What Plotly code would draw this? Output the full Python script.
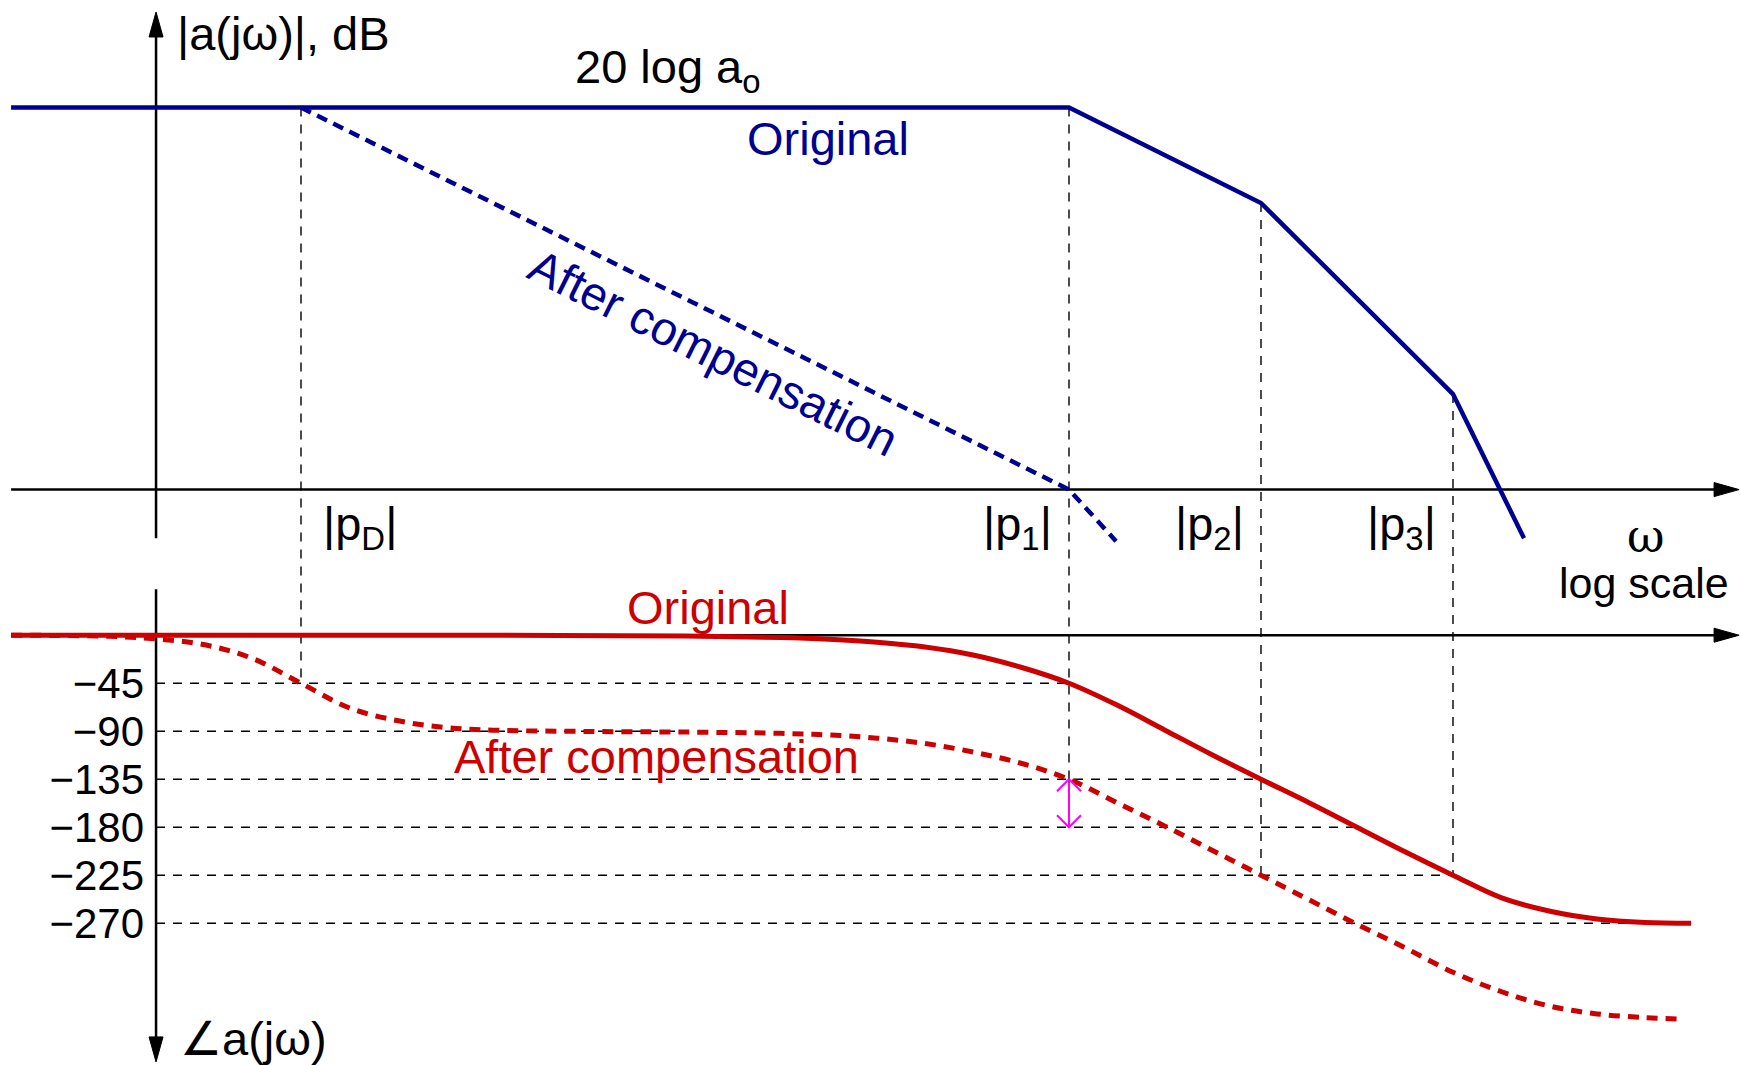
import plotly.graph_objects as go

W, H = 1741, 1065
SANS = "Liberation Sans, Arial, Helvetica, sans-serif"
SERIF = "DejaVu Serif, Liberation Serif, serif"
BLUE = "#000090"
RED = "#cc0000"
MAGENTA = "#ff00ff"

# ---------------- data (x = log10 of omega, |pD| at 10^0) ----------------
pole_labels = ["|p<sub>D</sub>|", "|p<sub>1</sub>|", "|p<sub>2</sub>|", "|p<sub>3</sub>|"]
pole_logw = [0.0, 4.0, 5.0, 6.0]
pole_mag_start = [80, 80, 60, 20]          # dB where each guide starts
pole_phase_stop = [-45, -180, -225, -225]  # degrees where each guide stops

# magnitude, dB
mag_orig_logw = [-1.51, 4.0, 5.0, 6.0, 6.37]
mag_orig_db = [80, 80, 60, 20, -10.2]
mag_comp_logw = [0.0, 4.0, 4.245]
mag_comp_db = [80, 0, -10.8]

# phase, degrees
ph_orig_logw = [-1.51, 0.0, 1.0, 2.0, 2.5, 2.75, 3.0, 3.25, 3.5, 3.75, 4.0, 4.25,
                4.5, 4.75, 5.0, 5.25, 5.5, 5.75, 6.0, 6.25, 6.5, 6.75, 7.0, 7.24]
ph_orig_deg = [0, 0, 0, -0.8, -2.2, -3.8, -6.5, -11, -18.5, -30, -45, -65.5,
               -89, -112.5, -135, -157, -180, -203, -225, -246, -258.5, -266, -269.3, -270]
ph_comp_logw = [-1.51, -1.0, -0.75, -0.5, -0.25, 0.0, 0.25, 0.5, 0.75, 1.0, 1.5, 2.0,
                2.5, 2.75, 3.0, 3.25, 3.5, 3.75, 4.0, 4.25, 4.5, 4.75, 5.0, 5.25,
                5.5, 5.75, 6.0, 6.25, 6.5, 6.75, 7.0, 7.2]
ph_comp_deg = [0, -1, -3.5, -9, -22, -45, -68, -80, -86.5, -89, -90.2, -90.8,
               -92, -93.5, -96.5, -101.5, -109.5, -120, -135, -157, -179, -202, -225, -248,
               -271, -293, -316, -334, -347.5, -355, -358.5, -360]

phase_ticks = [-45, -90, -135, -180, -225, -270]
phase_guide_end = [4.0, 2.0, 5.0, 5.5, 6.0, 7.24]

# ---------------- axes geometry ----------------
X_RANGE = [-1.5677, 7.5]
MAG_RANGE = [-120.48, 102.51]
PH_RANGE = [-402.9, 595.5]
AXIS_X = -0.755      # vertical axes location (log w)
LEFT_X = -1.51
TIP_X = 7.49


def phase_to_db(deg):
    f = (deg - PH_RANGE[0]) / (PH_RANGE[1] - PH_RANGE[0])
    return MAG_RANGE[0] + f * (MAG_RANGE[1] - MAG_RANGE[0])


fig = go.Figure()

fig.add_trace(go.Scatter(x=mag_orig_logw, y=mag_orig_db, mode="lines",
                         line=dict(color=BLUE, width=4.5), yaxis="y", hoverinfo="skip"))
fig.add_trace(go.Scatter(x=mag_comp_logw, y=mag_comp_db, mode="lines",
                         line=dict(color=BLUE, width=4.5, dash="11px,7px"), yaxis="y", hoverinfo="skip"))
fig.add_trace(go.Scatter(x=ph_comp_logw, y=ph_comp_deg, mode="lines",
                         line=dict(color=RED, width=5, dash="11px,8px", shape="spline", smoothing=1.0),
                         yaxis="y2", hoverinfo="skip"))
fig.add_trace(go.Scatter(x=ph_orig_logw, y=ph_orig_deg, mode="lines",
                         line=dict(color=RED, width=5, shape="spline", smoothing=1.0),
                         yaxis="y2", hoverinfo="skip"))

shapes = []
GUIDE = dict(color="black", width=1.4, dash="9px,8px")

# vertical guides at the poles
for xv, m0, p1 in zip(pole_logw, pole_mag_start, pole_phase_stop):
    shapes.append(dict(type="line", xref="x", yref="y", x0=xv, x1=xv, y0=m0, y1=phase_to_db(p1),
                       line=GUIDE, layer="below"))
# horizontal phase guides
for pv, xe in zip(phase_ticks, phase_guide_end):
    shapes.append(dict(type="line", xref="x", yref="y2", x0=AXIS_X, x1=xe, y0=pv, y1=pv,
                       line=GUIDE, layer="below"))

AX = dict(color="black", width=2.5)
# magnitude axes
shapes.append(dict(type="line", xref="x", yref="y", x0=AXIS_X, x1=AXIS_X, y0=-10.2, y1=96,
                   line=AX, layer="below"))
shapes.append(dict(type="line", xref="x", yref="y", x0=LEFT_X, x1=TIP_X - 0.1, y0=0, y1=0,
                   line=AX, layer="below"))
# phase axes
shapes.append(dict(type="line", xref="x", yref="y2", x0=AXIS_X, x1=AXIS_X, y0=43, y1=-380,
                   line=AX, layer="below"))
shapes.append(dict(type="line", xref="x", yref="y2", x0=LEFT_X, x1=TIP_X - 0.1, y0=0, y1=0,
                   line=AX, layer="below"))


def head(x, y, yref, path, color="black", fill=True, width=1):
    return dict(type="path", xref="x", yref=yref, xsizemode="pixel", ysizemode="pixel",
                xanchor=x, yanchor=y, path=path,
                fillcolor=color if fill else "rgba(0,0,0,0)",
                line=dict(color=color, width=width), layer="above")


shapes.append(head(TIP_X, 0, "y", "M0,0 L-25,7 L-25,-7 Z"))
shapes.append(head(TIP_X, 0, "y2", "M0,0 L-25,7 L-25,-7 Z"))
shapes.append(head(AXIS_X, 100, "y", "M0,0 L-7,-25 L7,-25 Z"))
shapes.append(head(AXIS_X, -400, "y2", "M0,0 L-7,25 L7,25 Z"))

# magenta double arrow: phase margin indicator at |p1|
shapes.append(dict(type="line", xref="x", yref="y2", x0=pole_logw[1], x1=pole_logw[1],
                   y0=-135, y1=-180, line=dict(color=MAGENTA, width=2), layer="above"))
shapes.append(head(pole_logw[1], -135, "y2", "M-12,-12 L0,0 L12,-12", MAGENTA, fill=False, width=2))
shapes.append(head(pole_logw[1], -180, "y2", "M-12,12 L0,0 L12,12", MAGENTA, fill=False, width=2))


def txt(text, x, y, size=47, color="black", xanchor="left", angle=0, family=SANS):
    return dict(text=text, x=x / W, y=1 - y / H, xref="paper", yref="paper",
                xanchor=xanchor, yanchor="middle", showarrow=False, textangle=angle,
                font=dict(size=size, color=color, family=family))


annotations = [
    txt("|a(j\u03c9)|, dB", 175, 34),
    txt("20 log a<sub>o</sub>", 573, 70),
    txt("Original", 745, 138, color=BLUE),
    txt("After compensation", 713.5, 352.5, color=BLUE, xanchor="center", angle=26.5),
    txt("Original", 625, 607, color=RED),
    txt("After compensation", 452, 756, color=RED),
    txt("\u03c9", 1645.5, 536, size=46, xanchor="center", family=SERIF),
    txt("log scale", 1644, 583, size=43, xanchor="center"),
    txt("\u2220a(j\u03c9)", 178, 1038),
]
pole_shift = [59, -52, -52, -52]
for lab, xv, sh in zip(pole_labels, pole_logw, pole_shift):
    annotations.append(dict(text=lab, x=xv, xref="x", y=1 - 527 / H, yref="paper", xshift=sh,
                            xanchor="center", yanchor="middle", showarrow=False,
                            font=dict(size=47, color="black", family=SANS)))

fig.update_layout(
    width=W, height=H, autosize=False,
    margin=dict(l=0, r=0, t=0, b=0, pad=0),
    template="none",
    paper_bgcolor="white", plot_bgcolor="white",
    showlegend=False,
    xaxis=dict(range=X_RANGE, domain=[0, 1], visible=False, fixedrange=True),
    yaxis=dict(range=MAG_RANGE, domain=[0, 1], visible=False, fixedrange=True),
    yaxis2=dict(range=PH_RANGE, overlaying="y", anchor="free", position=156 / W, side="left",
                tickvals=phase_ticks, ticktext=["\u2212" + str(abs(v)) for v in phase_ticks],
                tickfont=dict(size=42, color="black", family=SANS),
                showgrid=False, zeroline=False, showline=False, ticks="",
                ticklabelstandoff=12, automargin=False, fixedrange=True),
    shapes=shapes,
    annotations=annotations,
)

fig.write_html("out.html")
